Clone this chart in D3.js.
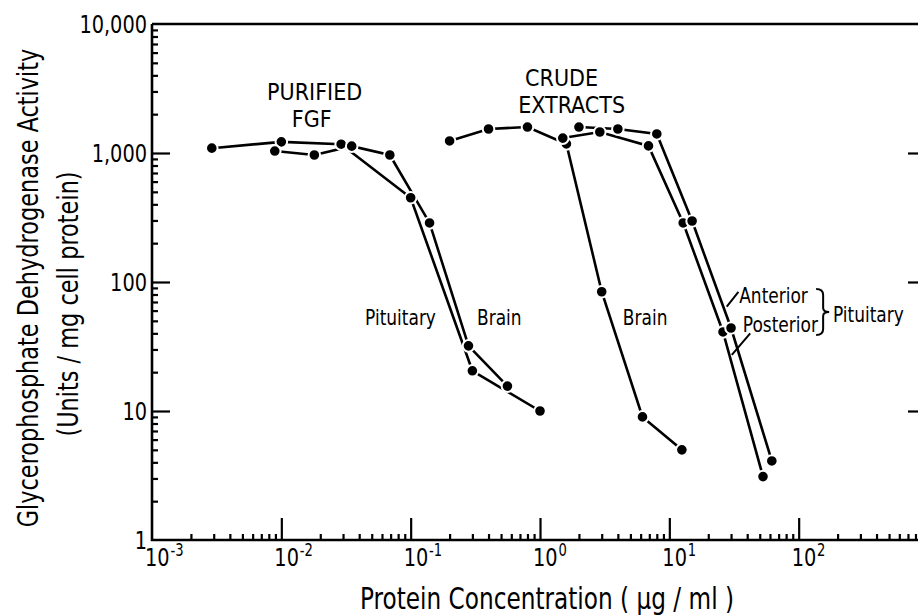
<!DOCTYPE html>
<html>
<head>
<meta charset="utf-8">
<script src="https://cdn.jsdelivr.net/npm/d3@7"></script>
<style>
  body { margin: 0; background: #fff; }
  text { font-family: "DejaVu Sans Condensed", "DejaVu Sans", sans-serif; fill: #000; }
</style>
</head>
<body>
<div id="chart"></div>
<script>
// # Data (protein conc. ug/ml, activity units / mg cell protein)
const fgfPituitary = [[0.0029, 1090], [0.01, 1220], [0.029, 1170], [0.1, 450], [0.3, 20.5], [1.0, 10]]
const fgfBrain = [[0.0089, 1035], [0.018, 965], [0.035, 1130], [0.069, 965], [0.14, 287], [0.28, 32], [0.56, 15.6]]
const crudeBrain = [[0.2, 1240], [0.4, 1535], [0.8, 1590], [1.6, 1175], [3.0, 84], [6.2, 9], [12.5, 5]]
const crudePosterior = [[1.5, 1305], [2.9, 1455], [6.9, 1135], [12.8, 287], [26, 41], [53, 3.1]]
const crudeAnterior = [[2.0, 1590], [4.0, 1535], [8.0, 1405], [15, 297], [30, 44], [62, 4.1]]
const series = [fgfPituitary, fgfBrain, crudeBrain, crudePosterior, crudeAnterior]

const xMajor = [1e-3, 1e-2, 1e-1, 1e0, 1e1, 1e2, 1e3]
const xExponents = ['-3', '-2', '-1', '0', '1', '2']
const yMajor = [1, 10, 100, 1000, 10000]

// # Labels placed in data space (x = start, y = baseline)
const curveLabels = [
    {text: 'Pituitary', x: 0.0444, y: 46.4},
    {text: 'Brain', x: 0.326, y: 46.4},
    {text: 'Brain', x: 4.37, y: 46.4},
    {text: 'Anterior', x: 34.7, y: 69},
    {text: 'Posterior', x: 37, y: 41.2},
    {text: 'Pituitary', x: 184, y: 49.2}
]
const groupTitles = [
    {text: 'PURIFIED', x: 0.0181, y: 2576, anchor: 'middle'},
    {text: 'FGF', x: 0.0172, y: 1591, anchor: 'middle'},
    {text: 'CRUDE', x: 0.767, y: 3306, anchor: 'start'},
    {text: 'EXTRACTS', x: 0.678, y: 2042, anchor: 'start'}
]
const leaders = [[[34.2, 84], [27.8, 64.4]], [[42.2, 40], [30.4, 27.2]]]
const brace = {x: 136.5, top: 88.3, bottom: 38.8}

const width = 918, height = 616
const SX = 0.86   // horizontal squeeze, the lettering is narrow
const x = d3.scaleLog().domain([1e-3, 1e3]).range([152, 928])
const y = d3.scaleLog().domain([1, 1e4]).range([540, 24])

const svg = d3.select('#chart').append('svg')
    .attr('width', width)
    .attr('height', height)
svg.append('rect').attr('width', width).attr('height', height).attr('fill', '#fff')

// # Place text at a point, squeezed horizontally.
const at = (px, py, rot, sx = SX) => `translate(${px},${py})${rot ? ' rotate(' + rot + ')' : ''} scale(${sx},1)`

// # Minor tick values for a log axis.
function minors(lo, hi) {
    let out = []
    for (let e = Math.log10(lo); e < Math.log10(hi); e++)
        for (let k = 2; k <= 9; k++) out.push(k * Math.pow(10, e))
    return out
}

// # Axes (ticks point inward).
const axisStyle = g => {
    g.select('.domain').remove()
    g.selectAll('line').attr('stroke', '#000').attr('stroke-width', 2.2)
    g.selectAll('text').remove()
}
svg.append('g').attr('transform', `translate(${x(1e-3)},0)`)
    .call(d3.axisRight(y).tickValues(yMajor.slice(1, 4)).tickSize(18)).call(axisStyle)
svg.append('g').attr('transform', `translate(${x(1e-3)},0)`)
    .call(d3.axisRight(y).tickValues(minors(1, 1e4)).tickSize(6)).call(axisStyle)
svg.append('g').attr('transform', `translate(${x(1e3)},0)`)
    .call(d3.axisLeft(y).tickValues(yMajor.slice(1, 4)).tickSize(20)).call(axisStyle)
svg.append('g').attr('transform', `translate(0,${y(1)})`)
    .call(d3.axisTop(x).tickValues(xMajor.slice(1, 6)).tickSize(22)).call(axisStyle)
svg.append('g').attr('transform', `translate(0,${y(1)})`)
    .call(d3.axisTop(x).tickValues(minors(1e-3, 1e3)).tickSize(6)).call(axisStyle)

// # Frame.
const frame = svg.append('g').attr('stroke', '#000').attr('stroke-width', 2.6).attr('fill', 'none')
frame.append('path').attr('d', `M${x(1e-3)},${y(1e4)}H${x(1e3)}`)
frame.append('path').attr('d', `M${x(1e-3)},${y(1e4)}V${y(1)}H${x(1e3)}`)

// # Tick labels.
svg.append('g').selectAll('text').data(yMajor).enter().append('text')
    .attr('transform', d => at(x(1e-3) - 5, y(d)))
    .attr('dy', '0.36em')
    .attr('text-anchor', 'end')
    .attr('font-size', 25)
    .text(d => d3.format(',')(d))

const xl = svg.append('g').selectAll('text').data(xExponents).enter().append('text')
    .attr('transform', (d, i) => at(x(xMajor[i]) - 7, y(1) + 26))
    .attr('font-size', 25)
xl.append('tspan').text('10')
xl.append('tspan').attr('dx', 1).attr('dy', -10).attr('font-size', 17).text(d => d)

// # Axis titles.
svg.append('text')
    .attr('transform', at(38, 288, -90))
    .attr('text-anchor', 'middle').attr('font-size', 29)
    .text('Glycerophosphate  Dehydrogenase  Activity')
svg.append('text')
    .attr('transform', at(78, 304, -90))
    .attr('text-anchor', 'middle').attr('font-size', 29)
    .text('(Units / mg  cell  protein)')
svg.append('text')
    .attr('transform', at(547, 609))
    .attr('text-anchor', 'middle').attr('font-size', 30)
    .text('Protein  Concentration  ( \u03bcg / ml )')

// # Group titles.
svg.append('g').attr('font-size', 23).selectAll('text').data(groupTitles).enter().append('text')
    .attr('transform', d => at(x(d.x), y(d.y), 0, 1))
    .attr('text-anchor', d => d.anchor)
    .text(d => d.text)

// # Curves.
const line = d3.line().x(d => x(d[0])).y(d => y(d[1]))
svg.append('g').selectAll('path').data(series).enter().append('path')
    .attr('d', line)
    .attr('fill', 'none')
    .attr('stroke', '#000')
    .attr('stroke-width', 2.6)
svg.append('g').selectAll('g').data(series).enter().append('g')
    .selectAll('circle').data(d => d).enter().append('circle')
    .attr('cx', d => x(d[0]))
    .attr('cy', d => y(d[1]))
    .attr('r', 5.8)
    .attr('fill', '#000')
    .attr('stroke', '#fff')
    .attr('stroke-width', 2)

// # Curve labels, leaders and brace.
svg.append('g').attr('font-size', 22).selectAll('text').data(curveLabels).enter().append('text')
    .attr('transform', d => at(x(d.x), y(d.y)))
    .text(d => d.text)
svg.append('g').selectAll('path').data(leaders).enter().append('path')
    .attr('d', line)
    .attr('fill', 'none').attr('stroke', '#000').attr('stroke-width', 2)
const bx = x(brace.x), bt = y(brace.top), bb = y(brace.bottom), bm = (bt + bb) / 2
svg.append('path')
    .attr('d', `M${bx},${bt} q7,0 7,6 v${bm - bt - 10} q0,4 6,4 q-6,0 -6,4 v${bb - bm - 10} q0,6 -7,6`)
    .attr('fill', 'none').attr('stroke', '#000').attr('stroke-width', 2)
</script>
</body>
</html>
